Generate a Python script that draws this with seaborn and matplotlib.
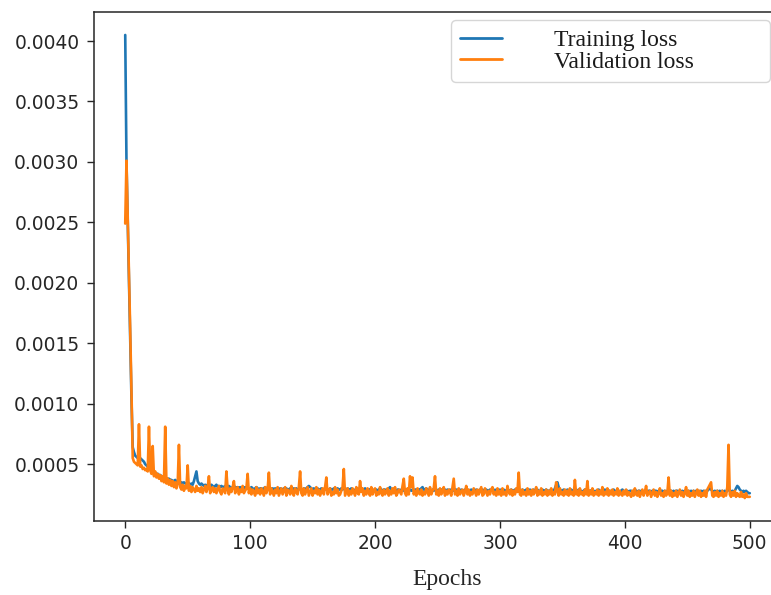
import numpy as np
import pandas as pd
import matplotlib
matplotlib.use("Agg")
import matplotlib.pyplot as plt
from matplotlib.ticker import MultipleLocator, FormatStrFormatter
from matplotlib.lines import Line2D
import seaborn as sns

# values in units of 1e-5
train_loss = [
    405, 300, 250, 202, 152, 104, 64, 60, 57, 56, 55, 54, 55, 54, 53, 52, 50, 49, 48, 47,
    46, 46, 45, 44, 43, 42, 42, 41, 41, 40, 40, 39, 39, 38, 38, 38, 37, 37, 36, 36,
    37, 36, 35, 36, 35, 35, 34, 35, 34, 34, 35, 34, 33, 34, 33, 36, 40, 44, 36, 34,
    33, 34, 33, 32, 33, 32, 33, 32, 32, 33, 32, 31, 32, 33, 31, 32, 31, 32, 31, 31,
    32, 31, 31, 32, 31, 30, 31, 32, 31, 30, 31, 30, 31, 30, 30, 31, 30, 31, 30, 30,
    30, 31, 30, 29, 30, 31, 30, 29, 30, 30, 29, 30, 31, 30, 29, 30, 30, 29, 30, 29,
    30, 29, 30, 29, 30, 29, 29, 30, 29, 30, 29, 29, 30, 29, 29, 30, 29, 30, 29, 29,
    30, 29, 29, 30, 29, 30, 31, 32, 31, 30, 29, 30, 29, 29, 30, 29, 29, 30, 29, 29,
    29, 30, 29, 29, 30, 29, 29, 30, 29, 29, 30, 29, 29, 30, 29, 30, 29, 29, 30, 29,
    29, 30, 29, 29, 28, 29, 30, 29, 29, 28, 29, 29, 30, 29, 28, 29, 29, 30, 29, 28,
    29, 29, 28, 29, 30, 29, 28, 29, 29, 28, 29, 30, 31, 29, 28, 29, 29, 28, 29, 29,
    28, 29, 29, 28, 29, 29, 28, 29, 29, 28, 29, 28, 29, 29, 28, 29, 29, 30, 31, 29,
    29, 30, 28, 29, 29, 28, 29, 28, 29, 29, 28, 29, 28, 29, 29, 28, 29, 28, 29, 28,
    29, 28, 29, 28, 29, 29, 28, 29, 28, 29, 28, 28, 29, 28, 29, 28, 28, 29, 28, 29,
    28, 29, 28, 28, 29, 28, 29, 28, 28, 29, 28, 28, 29, 28, 28, 29, 28, 29, 28, 28,
    29, 28, 28, 29, 28, 28, 29, 28, 28, 29, 28, 28, 29, 28, 28, 29, 28, 28, 29, 28,
    28, 29, 28, 28, 29, 28, 28, 29, 28, 28, 29, 28, 28, 28, 29, 28, 28, 29, 28, 28,
    28, 29, 28, 28, 30, 33, 35, 31, 29, 28, 28, 29, 28, 28, 29, 28, 28, 29, 28, 28,
    29, 28, 28, 29, 28, 28, 27, 28, 29, 28, 28, 27, 28, 28, 29, 28, 27, 28, 28, 29,
    28, 27, 28, 28, 29, 28, 27, 28, 28, 27, 28, 29, 28, 27, 28, 28, 27, 28, 29, 28,
    27, 28, 28, 27, 28, 28, 27, 28, 29, 28, 27, 28, 28, 27, 28, 27, 28, 28, 27, 28,
    28, 27, 28, 27, 28, 28, 27, 28, 27, 28, 28, 27, 28, 27, 28, 28, 27, 28, 27, 28,
    27, 28, 28, 27, 28, 27, 28, 27, 28, 28, 27, 28, 27, 28, 27, 28, 27, 28, 27, 28,
    27, 28, 27, 28, 27, 28, 28, 29, 30, 29, 28, 27, 28, 27, 28, 27, 28, 27, 28, 27,
    28, 27, 28, 29, 28, 27, 28, 27, 28, 30, 32, 31, 29, 28, 27, 28, 27, 28, 27, 26,
    26,
]

val_loss = [
    249, 301, 255, 205, 160, 110, 55, 52, 51, 50, 49, 83, 48, 49, 46, 47, 45, 46, 44, 81,
    45, 42, 65, 40, 44, 39, 42, 38, 41, 36, 40, 35, 81, 34, 38, 33, 37, 32, 36, 31,
    35, 30, 34, 66, 31, 29, 33, 28, 32, 30, 49, 28, 32, 27, 31, 29, 27, 32, 28, 30,
    27, 31, 26, 29, 32, 27, 30, 40, 26, 29, 31, 27, 30, 26, 29, 32, 27, 25, 30, 28,
    26, 44, 29, 25, 30, 27, 31, 36, 26, 28, 31, 25, 29, 27, 32, 26, 28, 30, 42, 26,
    30, 25, 29, 27, 24, 31, 26, 29, 25, 30, 27, 24, 31, 26, 29, 43, 25, 30, 27, 24,
    29, 26, 31, 24, 27, 30, 25, 28, 31, 24, 29, 27, 25, 32, 26, 24, 30, 27, 25, 31,
    44, 26, 24, 30, 25, 28, 31, 24, 27, 30, 24, 28, 26, 31, 25, 29, 24, 27, 30, 25,
    31, 39, 25, 28, 30, 24, 27, 25, 31, 26, 29, 24, 25, 28, 31, 46, 24, 27, 30, 24,
    28, 25, 30, 27, 24, 31, 26, 25, 36, 27, 30, 24, 28, 25, 30, 26, 24, 31, 25, 28,
    30, 24, 27, 25, 31, 26, 24, 29, 25, 27, 30, 24, 28, 25, 30, 26, 31, 24, 26, 29,
    27, 25, 32, 38, 26, 24, 30, 25, 40, 31, 39, 25, 28, 24, 30, 26, 25, 29, 24, 27,
    25, 30, 27, 24, 31, 25, 28, 30, 40, 25, 28, 24, 30, 25, 27, 31, 24, 28, 25, 29,
    27, 24, 31, 38, 25, 28, 24, 30, 25, 27, 29, 24, 27, 32, 25, 29, 24, 27, 25, 30,
    27, 24, 29, 25, 28, 31, 24, 25, 30, 27, 24, 28, 25, 29, 31, 25, 27, 24, 30, 25,
    28, 24, 30, 25, 27, 24, 32, 27, 25, 29, 24, 28, 25, 30, 27, 43, 25, 24, 29, 25,
    27, 24, 30, 25, 28, 24, 29, 25, 27, 31, 24, 28, 25, 30, 24, 27, 25, 29, 24, 28,
    25, 30, 24, 27, 25, 35, 28, 24, 30, 25, 27, 24, 29, 25, 28, 24, 30, 25, 27, 24,
    37, 25, 28, 24, 30, 25, 27, 24, 29, 25, 36, 24, 28, 25, 30, 24, 27, 25, 29, 24,
    28, 25, 31, 24, 27, 25, 30, 24, 28, 25, 29, 24, 27, 25, 30, 24, 28, 25, 24, 28,
    25, 29, 24, 27, 25, 23, 28, 24, 30, 25, 24, 28, 23, 26, 29, 24, 27, 32, 24, 26,
    28, 23, 26, 29, 24, 27, 23, 26, 30, 24, 26, 23, 28, 24, 26, 39, 24, 28, 23, 26,
    24, 28, 23, 26, 29, 24, 27, 23, 26, 31, 24, 28, 23, 26, 24, 28, 23, 26, 29, 24,
    28, 23, 26, 24, 28, 23, 29, 31, 33, 35, 24, 23, 27, 24, 28, 23, 26, 24, 28, 23,
    26, 24, 31, 66, 25, 23, 27, 24, 28, 23, 26, 24, 23, 27, 23, 25, 22, 26, 23, 23,
    23,
]

series_labels = ["Training loss", "Validation loss"]
x_label = "Epochs"
UNIT = 1e-5

df = pd.DataFrame({
    "epoch": np.concatenate([np.arange(len(train_loss)), np.arange(len(val_loss))]),
    "loss": np.concatenate([np.array(train_loss) * UNIT, np.array(val_loss) * UNIT]),
    "series": [series_labels[0]] * len(train_loss) + [series_labels[1]] * len(val_loss),
})

sns.set_style("ticks")
plt.rcParams["font.family"] = ["DejaVu Sans"]

fig = plt.figure(figsize=(7.71, 5.95), dpi=100)
ax = fig.add_axes([94 / 771, 1 - 521 / 595, (781 - 94) / 771, (521 - 12) / 595])

sns.lineplot(data=df, x="epoch", y="loss", hue="series",
             palette={series_labels[0]: "#1f77b4", series_labels[1]: "#ff7f0e"},
             linewidth=1.9, ax=ax, estimator=None, legend=False)

ax.set_xlim(-25, 525)
ax.set_ylim(0.00003, 0.00424)
ax.xaxis.set_major_locator(MultipleLocator(100))
ax.yaxis.set_major_locator(MultipleLocator(0.0005))
ax.yaxis.set_major_formatter(FormatStrFormatter("%.4f"))
ax.tick_params(axis="both", labelsize=13.4, length=5, width=1, colors="#262626",
               direction="out")
ax.tick_params(axis="y", pad=5.5)
ax.tick_params(axis="x", pad=4.5)
for sp in ax.spines.values():
    sp.set_linewidth(1.1)
    sp.set_color("#262626")
ax.set_ylabel("")
ax.set_xlabel(x_label, fontsize=17, family="Liberation Serif", color="#262626")
ax.xaxis.set_label_coords((447 - 94) / (781 - 94), -(580 - 521) / (521 - 12), transform=ax.transAxes)
ax.xaxis.label.set_va("center")

handles = [Line2D([], [], color="#1f77b4", lw=2.0), Line2D([], [], color="#ff7f0e", lw=2.0)]
leg = ax.legend(handles, series_labels, loc="upper left",
                bbox_to_anchor=(451 / 771, 1 - 20 / 595, (770 - 451) / 771, 0.0),
                bbox_transform=fig.transFigure, mode="expand",
                prop={"family": "Liberation Serif", "size": 17},
                handlelength=1.75, handletextpad=2.2, labelspacing=0.0,
                borderpad=0.4, borderaxespad=0.0, frameon=True, fancybox=True)
leg.get_frame().set_edgecolor("#cccccc")
leg.get_frame().set_linewidth(1.0)
for t in leg.get_texts():
    t.set_color("#1a1a1a")

fig.savefig("out.png", dpi=100)
